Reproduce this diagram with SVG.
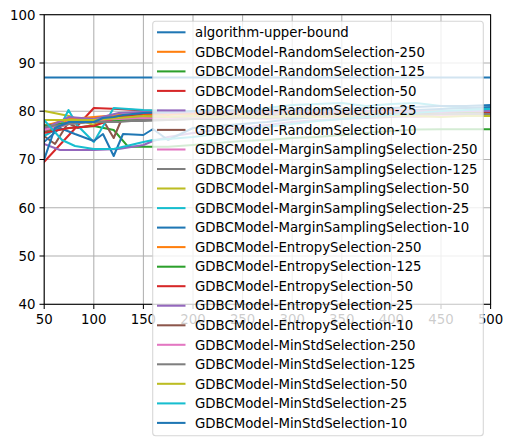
<svg xmlns="http://www.w3.org/2000/svg" width="513" height="446" viewBox="0 0 513 446">
<style>
text{font-family:"DejaVu Sans","Liberation Sans",sans-serif;font-size:13.3px;fill:#000}
.grid line{stroke:#b0b0b0;stroke-width:1.05}
.ticks line{stroke:#000;stroke-width:1.05}
.s{fill:none;stroke-width:2.05;stroke-linejoin:round;stroke-linecap:square}
.c0{stroke:#1f77b4}.c1{stroke:#ff7f0e}.c2{stroke:#2ca02c}.c3{stroke:#d62728}.c4{stroke:#9467bd}
.c5{stroke:#8c564b}.c6{stroke:#e377c2}.c7{stroke:#7f7f7f}.c8{stroke:#bcbd22}.c9{stroke:#17becf}
.h{stroke-width:2.05;stroke-linecap:butt}
</style>
<defs>
<clipPath id="ax"><rect x="44.2" y="14.7" width="446.4" height="289.6"/></clipPath>
</defs>
<rect width="513" height="446" fill="#fff"/>
<g id="grid" class="grid">
<line x1="44.2" y1="14.7" x2="44.2" y2="304.3"/>
<line x1="93.8" y1="14.7" x2="93.8" y2="304.3"/>
<line x1="143.4" y1="14.7" x2="143.4" y2="304.3"/>
<line x1="193.0" y1="14.7" x2="193.0" y2="304.3"/>
<line x1="242.6" y1="14.7" x2="242.6" y2="304.3"/>
<line x1="292.2" y1="14.7" x2="292.2" y2="304.3"/>
<line x1="341.8" y1="14.7" x2="341.8" y2="304.3"/>
<line x1="391.4" y1="14.7" x2="391.4" y2="304.3"/>
<line x1="441.0" y1="14.7" x2="441.0" y2="304.3"/>
<line x1="490.6" y1="14.7" x2="490.6" y2="304.3"/>
<line x1="44.2" y1="14.7" x2="490.6" y2="14.7"/>
<line x1="44.2" y1="63.0" x2="490.6" y2="63.0"/>
<line x1="44.2" y1="111.2" x2="490.6" y2="111.2"/>
<line x1="44.2" y1="159.5" x2="490.6" y2="159.5"/>
<line x1="44.2" y1="207.8" x2="490.6" y2="207.8"/>
<line x1="44.2" y1="256.0" x2="490.6" y2="256.0"/>
<line x1="44.2" y1="304.3" x2="490.6" y2="304.3"/>
</g>
<g id="connectors" clip-path="url(#ax)">
<polyline class="s c0" points="44.2,77.5 490.6,77.5"/>
<polyline class="s c1" points="44,128 69,121 93.8,118 118.6,116 143.4,114 168,115 193,113 217,114 242,112 267,113 292,112 317,113 342,112 366,112 391,111 416,112 441,111 466,111 490.6,112"/>
<polyline class="s c2" points="44,132 69,128 93.8,126 113.7,130 128,146.7 143.4,146.7 168,146.7 193,145 217,143 242,141 267,140 292,138 317,137 342,135 366,133 391,131 416,129.5 441,129.3 466,129.3 490.6,129.3"/>
<polyline class="s c3" points="44,162 69,135 93.8,108 118.6,109 143.4,110.5 168,111 193,112 217,110 242,111 267,112 292,110 317,111 342,112 366,111 391,110 416,111 441,112 466,111 490.6,110"/>
<polyline class="s c4" points="44,144 60,150 93.8,150 118.6,149 143.4,145 153,141 168,137 193,133 217,130 242,128 267,125 292,122 317,120 342,119 366,118 391,117 416,116 441,115 466,114 490.6,112"/>
<polyline class="s c5" points="44,136 55,144 68,123 78,128 93.8,125 103,120 113.7,138 123,116 143.4,113 168,112 193,114 217,112 242,110 267,113 292,112 317,114 342,113 366,114 391,112 416,113 441,114 466,113 490.6,114"/>
<polyline class="s c6" points="44,128 69,122 93.8,119 118.6,118 143.4,117 168,118 193,117 217,119 242,118 267,119 292,118 317,117 342,118 366,117 391,116 416,117 441,116 466,116 490.6,116"/>
<polyline class="s c7" points="44,125 69,123 93.8,121 118.6,121 143.4,121 168,120 193,119 217,118 242,118 267,117 292,117 317,116 342,116 366,115 391,115 416,114 441,114 466,113 490.6,113"/>
<polyline class="s c8" points="44,111 69,116 93.8,125 118.6,118 143.4,112 168,113 193,112 217,114 242,113 267,112 292,113 317,112 342,113 366,112 391,113 416,112 441,113 466,113 490.6,113"/>
<polyline class="s c9" points="44,136 60,127 68.5,110 77,125 93.8,142 113.7,108 143.4,110 168,111 193,112 217,110 242,111 267,108 292,105 317,104 342,103 366,106 391,104 416,103 441,106 466,108 490.6,108"/>
<polyline class="s c0" points="44,142 60,128 75,134 93.8,141 103,134 113.7,156 123,134 143.4,135 153,129 168,140 193,128 217,126 242,124 267,122 292,119 317,117 342,115 366,113 391,112 416,110 441,109 466,108 490.6,107"/>
<polyline class="s c1" points="44,126 69,119 93.8,117 118.6,115 143.4,114 168,113 193,114 217,113 242,114 267,112 292,113 317,112 342,113 366,112 391,112 416,113 441,112 466,112 490.6,112"/>
<polyline class="s c2" points="44,126 69,123 93.8,121 118.6,120 143.4,119 168,118 193,118 217,117 242,116 267,116 292,115 317,115 342,114 366,114 391,113 416,113 441,112 466,112 490.6,112"/>
<polyline class="s c3" points="44,133 69,128 93.8,126 118.6,117 143.4,113.5 168,113 193,112 217,113 242,112 267,111 292,112 317,113 342,112 366,111 391,112 416,113 441,112 466,111 490.6,112"/>
<polyline class="s c4" points="44,129 69,117 93.8,119 118.6,113 143.4,112 168,113 193,112 217,111 242,112 267,113 292,112 317,111 342,112 366,111 391,112 416,111 441,112 466,111 490.6,111"/>
<polyline class="s c5" points="44,131 69,124 93.8,121 118.6,118 143.4,116 168,117 193,116 217,115 242,116 267,115 292,116 317,115 342,114 366,115 391,114 416,115 441,114 466,114 490.6,114"/>
<polyline class="s c6" points="44,130 69,124 93.8,120 118.6,119 143.4,118 168,119 193,118 217,117 242,118 267,117 292,116 317,117 342,116 366,115 391,116 416,115 441,115 466,115 490.6,115"/>
<polyline class="s c7" points="44,127 69,124 93.8,122 118.6,122 143.4,120 168,120 193,119 217,119 242,118 267,118 292,117 317,117 342,116 366,116 391,115 416,115 441,114 466,114 490.6,114"/>
<polyline class="s c8" points="44,120 69,120 93.8,120 118.6,118 143.4,116 168,117 193,116 217,117 242,116 267,117 292,116 317,117 342,116 366,117 391,116 416,116 441,117 466,116 490.6,116"/>
<polyline class="s c9" points="44,120 62,140 75,146 93.8,149 113.7,149 143.4,142 153,140 168,139 193,137 217,134 242,130 267,127 292,124 317,121 342,119 366,117 391,115 416,113 441,111 466,110 490.6,109"/>
<polyline class="s c0" points="44,160 55,128 69,122 93.8,122 103,118 113.7,117 123,115 143.4,113 168,112 193,111 217,110 242,111 267,110 292,109 317,110 342,109 366,108 391,108 416,107 441,106 466,106 490.6,105"/>
</g>
<g id="axes" class="ticks">
<rect x="44.2" y="14.7" width="446.4" height="289.6" fill="none" stroke="#000" stroke-width="1.05"/>
<line x1="44.2" y1="304.3" x2="44.2" y2="309"/>
<line x1="93.8" y1="304.3" x2="93.8" y2="309"/>
<line x1="143.4" y1="304.3" x2="143.4" y2="309"/>
<line x1="193.0" y1="304.3" x2="193.0" y2="309"/>
<line x1="242.6" y1="304.3" x2="242.6" y2="309"/>
<line x1="292.2" y1="304.3" x2="292.2" y2="309"/>
<line x1="341.8" y1="304.3" x2="341.8" y2="309"/>
<line x1="391.4" y1="304.3" x2="391.4" y2="309"/>
<line x1="441.0" y1="304.3" x2="441.0" y2="309"/>
<line x1="490.6" y1="304.3" x2="490.6" y2="309"/>
<line x1="39.5" y1="14.7" x2="44.2" y2="14.7"/>
<line x1="39.5" y1="63.0" x2="44.2" y2="63.0"/>
<line x1="39.5" y1="111.2" x2="44.2" y2="111.2"/>
<line x1="39.5" y1="159.5" x2="44.2" y2="159.5"/>
<line x1="39.5" y1="207.8" x2="44.2" y2="207.8"/>
<line x1="39.5" y1="256.0" x2="44.2" y2="256.0"/>
<line x1="39.5" y1="304.3" x2="44.2" y2="304.3"/>
</g>
<g id="ytick-labels" text-anchor="end">
<text x="35.5" y="19.5">100</text>
<text x="35.5" y="67.8">90</text>
<text x="35.5" y="116">80</text>
<text x="35.5" y="164.3">70</text>
<text x="35.5" y="212.6">60</text>
<text x="35.5" y="260.8">50</text>
<text x="35.5" y="309.1">40</text>
</g>
<g id="xtick-labels" text-anchor="middle">
<text x="44.2" y="324">50</text>
<text x="93.8" y="324">100</text>
<text x="143.4" y="324">150</text>
<text x="193.0" y="324">200</text>
<text x="242.6" y="324">250</text>
<text x="292.2" y="324">300</text>
<text x="341.8" y="324">350</text>
<text x="391.4" y="324">400</text>
<text x="441.0" y="324">450</text>
<text x="490.6" y="324">500</text>
</g>
<g id="legend">
<rect x="152.7" y="21.3" width="330.6" height="414.4" rx="3" fill="#fff" fill-opacity="0.8" stroke="#cccccc" stroke-opacity="0.8" stroke-width="1.05"/>
<g id="legend-handles">
<line class="h c0" x1="157" y1="32.3" x2="185.5" y2="32.3"/>
<line class="h c1" x1="157" y1="51.8" x2="185.5" y2="51.8"/>
<line class="h c2" x1="157" y1="71.4" x2="185.5" y2="71.4"/>
<line class="h c3" x1="157" y1="90.9" x2="185.5" y2="90.9"/>
<line class="h c4" x1="157" y1="110.4" x2="185.5" y2="110.4"/>
<line class="h c5" x1="157" y1="129.9" x2="185.5" y2="129.9"/>
<line class="h c6" x1="157" y1="149.5" x2="185.5" y2="149.5"/>
<line class="h c7" x1="157" y1="169.0" x2="185.5" y2="169.0"/>
<line class="h c8" x1="157" y1="188.5" x2="185.5" y2="188.5"/>
<line class="h c9" x1="157" y1="208.1" x2="185.5" y2="208.1"/>
<line class="h c0" x1="157" y1="227.6" x2="185.5" y2="227.6"/>
<line class="h c1" x1="157" y1="247.1" x2="185.5" y2="247.1"/>
<line class="h c2" x1="157" y1="266.7" x2="185.5" y2="266.7"/>
<line class="h c3" x1="157" y1="286.2" x2="185.5" y2="286.2"/>
<line class="h c4" x1="157" y1="305.7" x2="185.5" y2="305.7"/>
<line class="h c5" x1="157" y1="325.3" x2="185.5" y2="325.3"/>
<line class="h c6" x1="157" y1="344.8" x2="185.5" y2="344.8"/>
<line class="h c7" x1="157" y1="364.3" x2="185.5" y2="364.3"/>
<line class="h c8" x1="157" y1="383.8" x2="185.5" y2="383.8"/>
<line class="h c9" x1="157" y1="403.4" x2="185.5" y2="403.4"/>
<line class="h c0" x1="157" y1="422.9" x2="185.5" y2="422.9"/>
</g>
<g id="legend-labels">
<text x="195" y="37">algorithm-upper-bound</text>
<text x="195" y="56.5">GDBCModel-RandomSelection-250</text>
<text x="195" y="76.1">GDBCModel-RandomSelection-125</text>
<text x="195" y="95.6">GDBCModel-RandomSelection-50</text>
<text x="195" y="115.1">GDBCModel-RandomSelection-25</text>
<text x="195" y="134.6">GDBCModel-RandomSelection-10</text>
<text x="195" y="154.2">GDBCModel-MarginSamplingSelection-250</text>
<text x="195" y="173.7">GDBCModel-MarginSamplingSelection-125</text>
<text x="195" y="193.2">GDBCModel-MarginSamplingSelection-50</text>
<text x="195" y="212.8">GDBCModel-MarginSamplingSelection-25</text>
<text x="195" y="232.3">GDBCModel-MarginSamplingSelection-10</text>
<text x="195" y="251.8">GDBCModel-EntropySelection-250</text>
<text x="195" y="271.4">GDBCModel-EntropySelection-125</text>
<text x="195" y="290.9">GDBCModel-EntropySelection-50</text>
<text x="195" y="310.4">GDBCModel-EntropySelection-25</text>
<text x="195" y="330.0">GDBCModel-EntropySelection-10</text>
<text x="195" y="349.5">GDBCModel-MinStdSelection-250</text>
<text x="195" y="369.0">GDBCModel-MinStdSelection-125</text>
<text x="195" y="388.5">GDBCModel-MinStdSelection-50</text>
<text x="195" y="408.1">GDBCModel-MinStdSelection-25</text>
<text x="195" y="427.6">GDBCModel-MinStdSelection-10</text>
</g>
</g>
</svg>
